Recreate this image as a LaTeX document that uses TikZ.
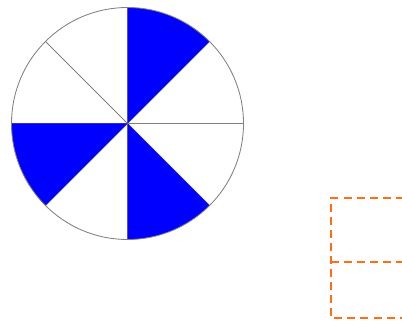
\documentclass[tikz,border=0pt]{standalone}
\usepackage{xcolor}
\usepackage{tikz}
\definecolor{PieBlue}{RGB}{0,0,255}
\definecolor{PieLine}{RGB}{128,128,128}
\definecolor{BoxOrange}{RGB}{255,110,20}

\begin{document}
\begin{tikzpicture}[
  x=0.025cm, y=-0.025cm,
  spoke/.style={draw=PieLine, line width=0.6pt},
  slice/.style={fill=PieBlue},
  dashbox/.style={draw=BoxOrange, line width=1.3pt, dash pattern=on 5.7pt off 3.6pt},
]
  \useasboundingbox (0,0) rectangle (402,321);
  \clip (0,0) rectangle (402,321);

  % pie (y runs downwards, so angles turn clockwise)
  \coordinate (c) at (127.5,123.5);
  \foreach \a in {0,45,...,315} {
    \draw[spoke] (c) -- ++(\a:116);
  }
  \foreach \a in {45,135,270} {
    \fill[slice] (c) -- ++(\a:116) arc[start angle=\a, end angle=\a+45, radius=116] -- cycle;
  }
  \draw[spoke] (c) circle[radius=116];

  % dashed boxes (cut at the right edge)
  \coordinate (b1) at (331,198);
  \coordinate (b2) at (331,262);
  \coordinate (b3) at (331,318);
  \draw[dashbox] (430,198) -- (b1) -- (b3) -- (430,318);
  \draw[dashbox] (b2) -- (430,262);
\end{tikzpicture}
\end{document}
